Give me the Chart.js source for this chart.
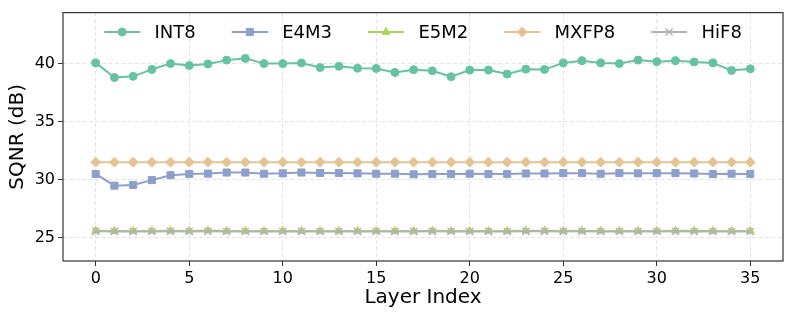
<!DOCTYPE html>
<html>
<head>
<meta charset="utf-8">
<script src="https://cdn.jsdelivr.net/npm/chart.js@4.4.1/dist/chart.umd.min.js"></script>
<style>
  html, body { margin: 0; padding: 0; background: #fff; }
  #wrap { width: 793px; height: 319px; }
</style>
</head>
<body>
<div id="wrap"><canvas id="grafico"></canvas></div>
<script>
// dados
const camadas = []
for (var i = 0; i < 36; i++) camadas.push(i)

const int8 = [40.06, 38.80, 38.90, 39.50, 40.00, 39.83, 39.97, 40.30, 40.45, 40.00,
              40.00, 40.05, 39.66, 39.77, 39.60, 39.58, 39.24, 39.47, 39.38, 38.87,
              39.44, 39.44, 39.10, 39.52, 39.50, 40.06, 40.25, 40.06, 40.00, 40.30,
              40.17, 40.25, 40.14, 40.06, 39.41, 39.55]
const e4m3 = [30.48, 29.47, 29.53, 29.95, 30.37, 30.48, 30.51, 30.60, 30.60, 30.50,
              30.53, 30.60, 30.56, 30.56, 30.53, 30.50, 30.50, 30.45, 30.47, 30.47,
              30.50, 30.47, 30.47, 30.52, 30.52, 30.55, 30.55, 30.50, 30.55, 30.53,
              30.55, 30.55, 30.52, 30.47, 30.50, 30.47]
const e5m2 = [25.58, 25.55, 25.55, 25.56, 25.57, 25.56, 25.60, 25.55, 25.56, 25.56,
              25.56, 25.56, 25.55, 25.56, 25.56, 25.56, 25.55, 25.56, 25.57, 25.55,
              25.56, 25.56, 25.55, 25.57, 25.58, 25.56, 25.57, 25.56, 25.56, 25.55,
              25.56, 25.57, 25.57, 25.55, 25.56, 25.56]
const hif8 = [25.53, 25.51, 25.52, 25.52, 25.53, 25.52, 25.53, 25.52, 25.52, 25.52,
              25.52, 25.52, 25.51, 25.52, 25.52, 25.52, 25.52, 25.52, 25.53, 25.52,
              25.52, 25.52, 25.51, 25.53, 25.53, 25.52, 25.53, 25.52, 25.52, 25.52,
              25.52, 25.53, 25.52, 25.52, 25.52, 25.52]
const mxfp8 = [31.50, 31.50, 31.50, 31.50, 31.50, 31.50, 31.50, 31.50, 31.50, 31.50,
               31.50, 31.50, 31.50, 31.50, 31.50, 31.50, 31.50, 31.50, 31.50, 31.50,
               31.50, 31.50, 31.50, 31.50, 31.50, 31.50, 31.50, 31.50, 31.50, 31.50,
               31.50, 31.50, 31.50, 31.50, 31.50, 31.50]

const nomes = ['INT8', 'E4M3', 'E5M2', 'MXFP8', 'HiF8']
const ticksX = [0, 5, 10, 15, 20, 25, 30, 35]
const ticksY = [25, 30, 35, 40]

const fonte = "'DejaVu Sans', sans-serif"

function serie(nome, valores, cor, estilo, raio, borda, ordem) {
    return {
        label: nome,
        data: camadas.map(function (x, i) { return { x: x, y: valores[i] } }),
        borderColor: cor,
        backgroundColor: cor,
        pointBackgroundColor: cor,
        pointBorderColor: cor,
        pointStyle: estilo,
        pointRadius: raio,
        pointHoverRadius: raio,
        pointBorderWidth: borda,
        borderWidth: 2,
        tension: 0,
        order: ordem
    }
}

// legenda desenhada na mao (linha + marcador, estilo matplotlib)
const legendaLinha = {
    id: 'legendaLinha',
    afterDraw(chart) {
        const ctx = chart.ctx
        const area = chart.chartArea
        const fs = 18
        ctx.save()
        ctx.font = fs + 'px ' + fonte
        const handle = 2 * fs, pad = 0.8 * fs, col = 2 * fs
        const larguras = chart.data.datasets.map(d => ctx.measureText(d.label).width)
        let total = 0
        larguras.forEach((w, i) => { total += handle + pad + w + (i > 0 ? col : 0) })
        let x = (area.left + area.right) / 2 - total / 2
        const y = 32
        chart.data.datasets.forEach((d, i) => {
            ctx.strokeStyle = d.borderColor
            ctx.lineWidth = 2
            ctx.beginPath()
            ctx.moveTo(x, y)
            ctx.lineTo(x + handle, y)
            ctx.stroke()
            ctx.fillStyle = d.borderColor
            ctx.lineWidth = d.pointBorderWidth
            Chart.helpers.drawPoint(ctx, {
                pointStyle: d.pointStyle, radius: d.pointRadius, rotation: 0, borderWidth: d.pointBorderWidth
            }, x + handle / 2, y)
            ctx.fillStyle = '#000'
            ctx.textBaseline = 'middle'
            ctx.textAlign = 'left'
            ctx.fillText(d.label, x + handle + pad, y + 1)
            x += handle + pad + larguras[i] + col
        })
        // moldura do grafico
        ctx.strokeStyle = '#333'
        ctx.lineWidth = 1.2
        ctx.strokeRect(area.left, area.top, area.right - area.left, area.bottom - area.top)
        ctx.restore()
    }
}

function plotarGrafico() {
    const config = {
        type: 'line',
        data: {
            datasets: [
                serie(nomes[0], int8, '#66c2a5', 'circle', 4, 1, 5),
                serie(nomes[1], e4m3, '#8da0cb', 'rect', 5, 1, 4),
                serie(nomes[2], e5m2, '#a6d854', 'triangle', 4.5, 1, 3),
                serie(nomes[3], mxfp8, '#e5c494', 'rectRot', 5, 1, 2),
                serie(nomes[4], hif8, '#b3b3b3', 'crossRot', 5, 1.5, 1)
            ]
        },
        options: {
            responsive: true,
            maintainAspectRatio: false,
            animation: false,
            layout: { padding: { top: 7, right: 10, left: 0, bottom: 0 } },
            plugins: {
                legend: { display: false },
                tooltip: { enabled: false }
            },
            scales: {
                x: {
                    type: 'linear',
                    min: -1.75,
                    max: 36.75,
                    afterBuildTicks: function (s) { s.ticks = ticksX.map(v => ({ value: v })) },
                    afterFit: function (s) { s.height = 58 },
                    ticks: {
                        color: '#000',
                        font: { family: fonte, size: 16 },
                        padding: 3,
                        maxRotation: 0
                    },
                    grid: {
                        color: '#e3e3e3',
                        lineWidth: 1,
                        tickColor: '#333',
                        tickLength: 5,
                        tickWidth: 1
                    },
                    border: { display: false, dash: [4, 2.5] },
                    title: {
                        display: true,
                        text: 'Layer Index',
                        color: '#000',
                        font: { family: fonte, size: 20 },
                        padding: { top: 4, bottom: 9 }
                    }
                },
                y: {
                    min: 22.97,
                    max: 44.4,
                    afterBuildTicks: function (s) { s.ticks = ticksY.map(v => ({ value: v })) },
                    afterFit: function (s) { s.width = 63 },
                    ticks: {
                        color: '#000',
                        font: { family: fonte, size: 16 },
                        padding: 3
                    },
                    grid: {
                        color: '#e3e3e3',
                        lineWidth: 1,
                        tickColor: '#333',
                        tickLength: 5,
                        tickWidth: 1
                    },
                    border: { display: false, dash: [4, 2.5] },
                    title: {
                        display: true,
                        text: 'SQNR (dB)',
                        color: '#000',
                        font: { family: fonte, size: 20 },
                        padding: { top: 6, bottom: 0 }
                    }
                }
            }
        },
        plugins: [legendaLinha]
    }
    const grafico = new Chart(document.getElementById('grafico'), config)
}

plotarGrafico()
</script>
</body>
</html>
